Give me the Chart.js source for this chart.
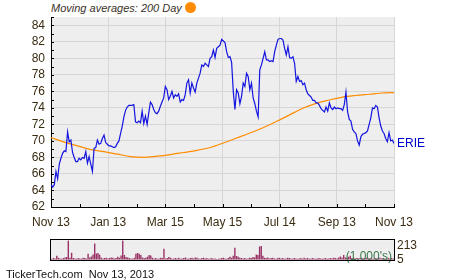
<!DOCTYPE html>
<html><head><meta charset="utf-8">
<script src="https://cdn.jsdelivr.net/npm/chart.js@4.4.0/dist/chart.umd.min.js"></script>
<style>
html,body{margin:0;padding:0;background:#fff;width:450px;height:280px;overflow:hidden;font-family:"Liberation Sans",Arial,sans-serif;}
#main{position:absolute;left:0;top:0;}
#vol{position:absolute;left:0;top:230px;}
#title{position:absolute;left:51px;top:2px;font-style:italic;font-size:11px;color:#3a3226;white-space:pre;}
#dot{position:absolute;left:185px;top:2px;width:11px;height:11px;border-radius:50%;background:#ff8c00;}
#footer{position:absolute;left:6px;top:268px;font-size:11px;color:#111;white-space:pre;}
</style></head>
<body>
<div id="title">Moving averages: 200 Day</div>
<div id="dot"></div>
<canvas id="main" width="450" height="232"></canvas>
<canvas id="vol" width="450" height="40"></canvas>
<div id="footer">TickerTech.com  Nov 13, 2013</div>
<script>
// ---- data ----
const ticker = 'ERIE';
const xTickLabels = ['Nov 13','Jan 13','Mar 15','May 15','Jul 14','Sep 13','Nov 13'];
const yTickValues = [62,64,66,68,70,72,74,76,78,80,82,84];
const volTickValues = [5,213];
const price = [
 64.7,64.4,64.7,66.3,65.4,67.2,67.9,68.5,68.8,68.7,
 71.1,69.9,70.1,68.6,68.0,67.5,67.5,67.9,67.7,68.0,
 67.9,68.7,67.3,68.1,67.2,66.3,69.1,69.2,70.1,69.6,
 69.7,70.3,70.7,69.8,69.6,69.4,69.4,69.3,69.2,69.3,
 69.7,70.0,70.9,71.8,72.9,73.7,74.1,74.3,74.3,74.3,
 74.4,
 72.3,72.2,72.4,72.2,73.6,72.1,73.0,72.0,73.4,74.7,
 74.4,73.8,73.4,73.3,73.6,74.2,74.7,75.2,76.6,76.2,
 75.0,75.4,76.0,75.2,75.6,75.4,75.7,74.7,75.0,74.9,
 75.6,77.0,77.4,75.8,77.0,76.4,75.9,77.0,77.6,78.2,
 79.2,79.0,79.4,79.2,79.0,80.0,80.2,81.0,80.1,81.2,
 81.4,81.6,82.3,82.1,
 81.9,80.8,80.1,80.2,79.5,76.0,73.8,76.2,75.8,74.5,
 75.4,77.0,76.6,78.2,77.8,76.2,77.0,75.2,74.5,73.6,
 72.9,78.6,79.2,80.0,80.8,79.8,79.8,79.6,79.7,79.6,
 80.8,81.6,82.3,82.4,82.4,82.2,81.2,80.4,81.4,80.1,
 80.0,80.2,79.4,77.2,77.8,77.2,77.3,76.8,77.0,76.2,
 75.7,
 75.5,75.3,74.9,74.9,74.6,74.6,74.3,73.9,73.7,73.5,
 74.1,73.6,74.6,74.0,73.8,74.1,73.9,74.0,73.9,73.9,
 73.7,74.4,75.9,
 73.5,72.6,72.4,71.4,71.1,70.9,70.0,69.5,70.5,70.8,
 70.9,71.0,71.2,72.0,72.8,74.0,73.9,74.3,74.1,72.8,
 71.8,71.2,70.9,70.3,69.9,71.0,70.0,70.1,69.7
];
const maDay = [0,8,16,24,32,40,48,56,64,72,80,88,96,104,112,120,128,136,144,152,160,168,176,184,192,200,207];
const maValue = [70.4,69.85,69.4,68.95,68.7,68.4,68.1,68.0,68.15,68.35,68.6,68.85,69.2,69.75,70.35,70.95,71.6,72.35,73.15,73.95,74.55,74.95,75.3,75.5,75.65,75.8,75.85];
const volume = [
 15,25,20,60,30,20,15,25,35,40, 285,30,105,25,20,15,25,20,15,30,
 25,20,90,35,50,80,240,95,100,75, 30,20,25,30,20,25,35,30,20,25,
 45,30,65,285,70,40,35,25,20,15, 30,90,100,90,70,35,25,30,45,70,
 65,30,20,25,15,20,30,25,165,20, 25,40,30,15,20,25,20,30,15,20,
 25,35,20,15,25,30,20,35,30,20, 15,25,30,20,25,15,20,25,15,20,
 10,15,20,25,30,20,15,25,45,30, 60,180,55,45,30,25,20,25,15,20,
 30,25,40,35,80,70,195,205,60,30, 25,35,20,25,30,20,15,25,30,20,
 25,15,20,30,25,20,15,25,20,15, 20,25,15,30,20,25,20,15,25,20,
 15,20,25,20,15,20,25,15,20,25, 20,30,25,20,35,50,30,70,35,30,
 45,60,25,30,20,25,20,30,25,20, 25,30,20,25,20,15,25,20,25,30,
 20,25,20,15,25,20,25,20
];

// ---- styling ----
const FONT = '"Liberation Sans", Arial, sans-serif';
const TXT = '#3a2c12';
Chart.defaults.font.family = FONT;
Chart.defaults.font.size = 12;
Chart.defaults.color = TXT;

const lastIdx = price.length - 1;
const nMinor = (xTickLabels.length - 1) * 2;
const xTickPos = Array.from({length: nMinor + 1}, (_, k) => k * lastIdx / nMinor);

const mainPlugin = {
  id: 'mainDeco',
  beforeDraw(chart) {
    const {ctx, chartArea: a} = chart;
    ctx.save(); ctx.fillStyle = '#eeeeee';
    ctx.fillRect(a.left, a.top, a.right - a.left, a.bottom - a.top);
    ctx.restore();
  },
  afterDraw(chart) {
    const {ctx, chartArea: a, scales} = chart;
    ctx.save();
    ctx.strokeStyle = '#000'; ctx.lineWidth = 1;
    ctx.beginPath();
    for (let v = 62; v <= 85; v++) {
      const y = Math.round(scales.y.getPixelForValue(v)) + 0.5;
      ctx.moveTo(a.left, y); ctx.lineTo(a.left + 3, y);
    }
    xTickPos.forEach(v => {
      const x = Math.round(scales.x.getPixelForValue(v)) + 0.5;
      ctx.moveTo(x, a.bottom); ctx.lineTo(x, a.bottom - 3);
    });
    ctx.stroke();
    const meta = chart.getDatasetMeta(0);
    const pt = meta.data[meta.data.length - 1];
    ctx.fillStyle = '#0000cc';
    ctx.font = '12px ' + FONT;
    ctx.textBaseline = 'middle'; ctx.textAlign = 'left';
    ctx.fillText(ticker, pt.x + 3, pt.y);
    ctx.restore();
  }
};

new Chart(document.getElementById('main'), {
  type: 'line',
  data: {
    datasets: [
      { data: price.map((v, i) => ({x: i, y: v})), borderColor: '#1414e0', borderWidth: 1.2, pointRadius: 0, tension: 0 },
      { data: maDay.map((d, k) => ({x: d, y: maValue[k]})), borderColor: '#ff8c00', borderWidth: 1.2, pointRadius: 0, cubicInterpolationMode: 'monotone' }
    ]
  },
  options: {
    responsive: false, animation: false, devicePixelRatio: 1,
    layout: {padding: {top: 17, right: 56, left: 0, bottom: 0}},
    plugins: {legend: {display: false}, tooltip: {enabled: false}},
    scales: {
      x: {
        type: 'linear', min: 0, max: lastIdx,
        afterBuildTicks: s => { s.ticks = xTickPos.map(v => ({value: v})); },
        afterFit: s => { s.height = 25; },
        ticks: {autoSkip: false, maxRotation: 0, padding: 8, color: TXT,
          callback: (v, i) => (i % 2 === 0 ? xTickLabels[i / 2] : '')},
        grid: {color: c => (c.index % 2 === 0 ? '#d6d6d6' : 'rgba(0,0,0,0)'), drawTicks: false},
        border: {color: '#000', width: 1}
      },
      y: {
        min: 62, max: 85,
        afterBuildTicks: s => { s.ticks = yTickValues.map(v => ({value: v})); },
        afterFit: s => { s.width = 51; },
        ticks: {autoSkip: false, padding: 6, color: TXT},
        grid: {color: '#d6d6d6', drawTicks: false},
        border: {color: '#000', width: 1}
      }
    }
  },
  plugins: [mainPlugin]
});

const volPlugin = {
  id: 'volDeco',
  beforeDraw(chart) {
    const {ctx, chartArea: a} = chart;
    ctx.save(); ctx.fillStyle = '#eeeeee';
    ctx.fillRect(a.left, a.top, a.right - a.left, a.bottom - a.top);
    ctx.restore();
  },
  afterDraw(chart) {
    const {ctx, chartArea: a} = chart;
    ctx.save();
    ctx.fillStyle = '#3c7a4c';
    ctx.font = '12px ' + FONT;
    ctx.textAlign = 'right'; ctx.textBaseline = 'middle';
    ctx.fillText("(1,000's)", a.right - 2, a.bottom - 3.5);
    ctx.strokeStyle = '#000'; ctx.lineWidth = 1;
    ctx.strokeRect(Math.round(a.left) - 0.5, Math.round(a.top) - 0.5, Math.round(a.right - a.left) + 1, Math.round(a.bottom - a.top) + 1);
    ctx.restore();
  }
};

new Chart(document.getElementById('vol'), {
  type: 'bar',
  data: {
    labels: volume.map((_, i) => i),
    datasets: [{ data: volume, backgroundColor: '#993366', barPercentage: 0.85, categoryPercentage: 1.0 }]
  },
  options: {
    responsive: false, animation: false, devicePixelRatio: 1,
    layout: {padding: {top: 6, right: 0, left: 51, bottom: 5}},
    plugins: {legend: {display: false}, tooltip: {enabled: false}},
    scales: {
      x: {display: false},
      y: {
        position: 'right', min: 0, max: 290,
        afterBuildTicks: s => { s.ticks = volTickValues.map(v => ({value: v})); },
        afterFit: s => { s.width = 56; },
        ticks: {autoSkip: false, padding: 3, color: TXT},
        grid: {display: false, drawTicks: false},
        border: {display: false}
      }
    }
  },
  plugins: [volPlugin]
});
</script>
</body></html>
